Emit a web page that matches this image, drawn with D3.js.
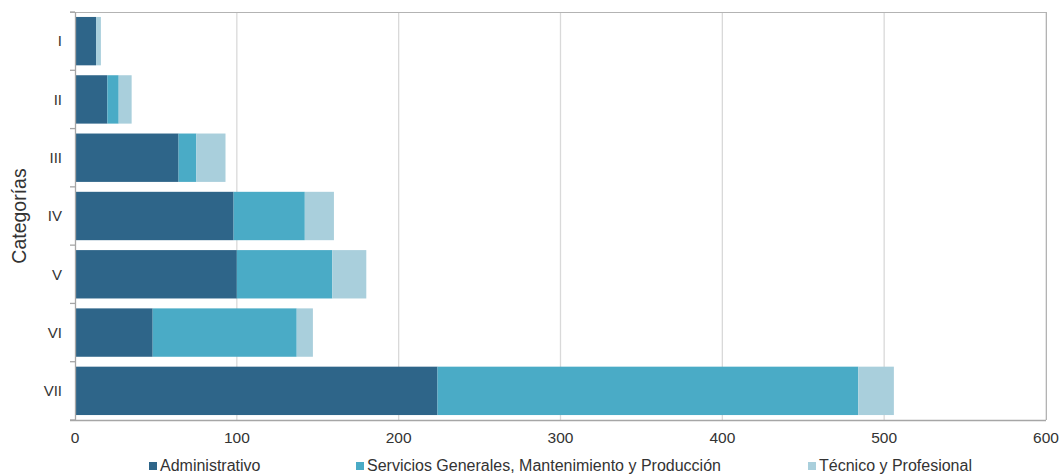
<!DOCTYPE html>
<html><head><meta charset="utf-8">
<script src="https://cdn.jsdelivr.net/npm/d3@7"></script>
<style>body{margin:0;background:#fff}svg{display:block;font-family:"Liberation Sans",Arial,sans-serif}</style>
</head><body><svg id="c" width="1061" height="475"></svg>
<script>
const categories = ["I","II","III","IV","V","VI","VII"];
const administrativo = [13, 20, 64, 98, 100, 48, 224];
const servicios = [0, 7, 11, 44, 59, 89, 260];
const tecnico = [3, 8, 18, 18, 21, 10, 22];
const seriesNames = ["Administrativo","Servicios Generales, Mantenimiento y Producción","Técnico y Profesional"];
const colors = ["#2e6589","#4aabc6","#a9cfdc"];
const xTicks = [0,100,200,300,400,500,600];

const svg = d3.select("#c");
const m = {l:75, r:1046, t:12, b:420};
const x = d3.scaleLinear().domain([0,600]).range([m.l, m.r]);
const y = d3.scaleBand().domain(categories).range([m.t, m.b]).paddingInner(0.17).paddingOuter(0.085);

// gridlines
svg.append("g").selectAll("line").data(xTicks.slice(1)).join("line")
  .attr("x1", d=>x(d)).attr("x2", d=>x(d)).attr("y1", m.t).attr("y2", m.b)
  .attr("stroke", "#d9d9d9").attr("stroke-width", 1.3);
// frame top
svg.append("line").attr("x1", m.l-5).attr("x2", m.r).attr("y1", m.t+0.5).attr("y2", m.t+0.5).attr("stroke","#b3b3b3");

const data = categories.map((c,i)=>({cat:c, Administrativo:administrativo[i], Servicios:servicios[i], Tecnico:tecnico[i]}));
const stack = d3.stack().keys(["Administrativo","Servicios","Tecnico"])(data);
svg.append("g").selectAll("g").data(stack).join("g").attr("fill",(d,i)=>colors[i])
  .selectAll("rect").data(d=>d).join("rect")
  .attr("x", d=>x(d[0])).attr("width", d=>x(d[1])-x(d[0]))
  .attr("y", d=>y(d.data.cat)).attr("height", y.bandwidth());

// left axis
svg.append("line").attr("x1", m.l+0.5).attr("x2", m.l+0.5).attr("y1", m.t).attr("y2", m.b).attr("stroke","#a6a6a6").attr("stroke-width",1.3);
const step = (m.b-m.t)/categories.length;
svg.append("g").selectAll("line").data(d3.range(categories.length+1)).join("line")
  .attr("x1", m.l-5).attr("x2", m.l).attr("y1", d=>m.t+d*step).attr("y2", d=>m.t+d*step)
  .attr("stroke","#a6a6a6").attr("stroke-width",1.3);
svg.append("g").selectAll("text").data(categories).join("text")
  .attr("x", 62).attr("y", d=>y(d)+y.bandwidth()/2).attr("dy","0.35em")
  .attr("text-anchor","end").attr("font-size",15).attr("fill","#333").text(d=>d);

// bottom axis
svg.append("line").attr("x1", m.l-5).attr("x2", m.r).attr("y1", m.b+0.5).attr("y2", m.b+0.5).attr("stroke","#a6a6a6").attr("stroke-width",1.3);
svg.append("line").attr("x1", m.r+0.5).attr("x2", m.r+0.5).attr("y1", m.t).attr("y2", m.b).attr("stroke","#b3b3b3");
svg.append("g").selectAll("text").data(xTicks).join("text")
  .attr("x", d=>x(d)).attr("y", 443).attr("text-anchor","middle").attr("font-size",15.5).attr("fill","#333").text(d=>d);

// y title
svg.append("text").attr("transform","translate(26,216) rotate(-90)").attr("text-anchor","middle")
  .attr("font-size",19.5).attr("fill","#333").text("Categorías");

// legend
const legX = [149, 356, 808];
const lg = svg.append("g").selectAll("g").data(seriesNames).join("g").attr("transform",(d,i)=>`translate(${legX[i]},471)`);
lg.append("rect").attr("x",0).attr("y",-9).attr("width",8).attr("height",8).attr("fill",(d,i)=>colors[i]);
lg.append("text").attr("x",11).attr("y",0).attr("font-size",16).attr("fill","#333").text(d=>d);
</script></body></html>
